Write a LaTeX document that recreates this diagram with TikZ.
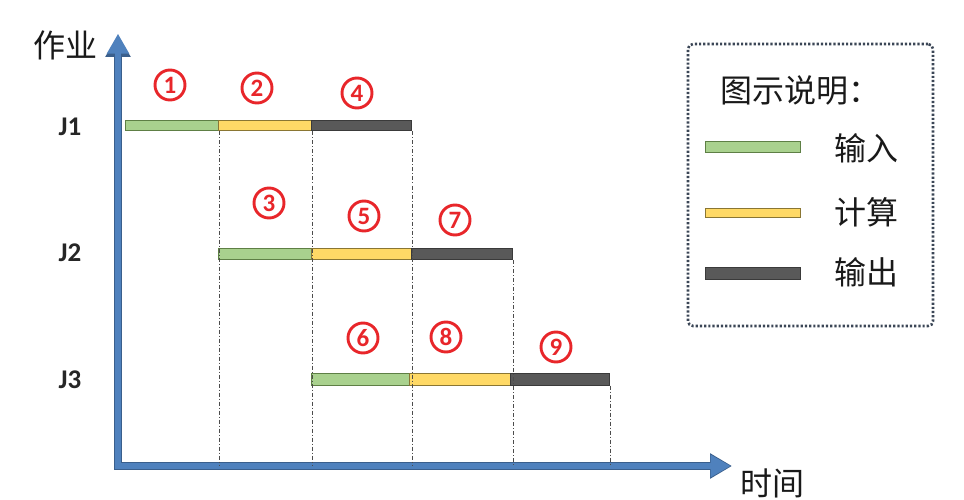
\documentclass[tikz,border=0pt]{standalone}
\usepackage{fontspec}
\setmainfont{Noto Sans}
\newfontfamily\cjk{Noto Sans CJK SC}
\newfontfamily\numfont{Carlito}
\usetikzlibrary{arrows.meta}
\definecolor{axisblue}{HTML}{4F81BD}
\definecolor{axisedge}{HTML}{3A5F8C}
\definecolor{ingreen}{HTML}{A9D18E}
\definecolor{ingreenedge}{HTML}{5E7F45}
\definecolor{calcyellow}{HTML}{FFD966}
\definecolor{calcedge}{HTML}{8A7633}
\definecolor{outdark}{HTML}{595959}
\definecolor{outedge}{HTML}{3A3A3A}
\definecolor{numred}{HTML}{E8262A}
\definecolor{legendedge}{HTML}{3B4656}
\tikzset{
  barbase/.style={inner sep=0pt, anchor=west, line width=1pt},
  inbar/.style={barbase, fill=ingreen, draw=ingreenedge},
  calcbar/.style={barbase, fill=calcyellow, draw=calcedge},
  outbar/.style={barbase, fill=outdark, draw=outedge},
  guide/.style={draw=black!70, line width=0.9pt, dash pattern=on 4pt off 2pt on 1pt off 2pt},
  numcirc/.style={circle, draw=numred, line width=2.9pt, text=numred, minimum size=30pt, inner sep=0pt, font=\numfont\bfseries\fontsize{25}{25}\selectfont},
  joblabel/.style={font=\numfont\bfseries\fontsize{27}{27}\selectfont, text=black!85},
  cjklabel/.style={font=\cjk\fontsize{32}{34}\selectfont, text=black!90},
}
\begin{document}
\begin{tikzpicture}[x=1pt,y=-1pt]
\useasboundingbox (0,0) rectangle (964,500);
\fill[white] (0,0) rectangle (964,500);
% axes
\coordinate (origin) at (118,466);
\coordinate (ytip) at (118,35);
\coordinate (xtip) at (732,466);
\draw[axisedge, line width=8.5pt, line join=miter, {Triangle[length=22pt,width=24pt]}-{Triangle[length=22pt,width=24pt]}] (ytip) |- (xtip);
\draw[axisblue, line width=6pt, line join=miter, {Triangle[length=20pt,width=21pt]}-{Triangle[length=20pt,width=21pt]}] ([yshift=1.3pt]ytip) |- ([xshift=-1.3pt]xtip);
% axis labels
\node[cjklabel] (ylab) at (66,45) {作业};
\node[cjklabel] (xlab) at (772,483) {时间};
\node[joblabel] (jl1) at (70,127) {J1};
\node[joblabel] (jl2) at (70,253) {J2};
\node[joblabel] (jl3) at (70,380) {J3};
% bars J1
\node[inbar, minimum width=93pt, minimum height=10pt] (a1) at (125,126) {};
\node[calcbar, minimum width=93pt, minimum height=10pt] (a2) at (218,126) {};
\node[outbar, minimum width=100pt, minimum height=10pt] (a3) at (311,126) {};
% bars J2
\node[inbar, minimum width=93pt, minimum height=11pt] (b1) at (218,254) {};
\node[calcbar, minimum width=100pt, minimum height=11pt] (b2) at (311,254) {};
\node[outbar, minimum width=101pt, minimum height=11pt] (b3) at (411,254) {};
% bars J3
\node[inbar, minimum width=98pt, minimum height=12pt] (c1) at (311,379) {};
\node[calcbar, minimum width=101pt, minimum height=12pt] (c2) at (409,379) {};
\node[outbar, minimum width=99pt, minimum height=12pt] (c3) at (510,379) {};
% guide lines
\draw[guide] (a1.south east) -- (a1.south east |- origin);
\draw[guide] (a2.south east) -- (a2.south east |- origin);
\draw[guide] (a3.south east) -- (a3.south east |- origin);
\draw[guide] (b3.south east) -- (b3.south east |- origin);
\draw[guide] (c3.south east) -- (c3.south east |- origin);
% circled numbers
\node[numcirc] (n1) at (170,85) {1};
\node[numcirc] (n2) at (257,88) {2};
\node[numcirc] (n4) at (357,93) {4};
\node[numcirc] (n3) at (269,203) {3};
\node[numcirc] (n5) at (364,216) {5};
\node[numcirc] (n7) at (455,220) {7};
\node[numcirc] (n6) at (363,338) {6};
\node[numcirc] (n8) at (446,337) {8};
\node[numcirc] (n9) at (556,347) {9};
% legend
\node[draw=legendedge, line width=2.6pt, dash pattern=on 2.2pt off 2pt, rounded corners=5pt, minimum width=245pt, minimum height=282pt, inner sep=0pt] (legend) at (810.5,185) {};
\node[cjklabel] (ltitle) at (800,90) {图示说明：};
\node[inbar, anchor=center, minimum width=95pt, minimum height=11pt] (lg1) at (752.5,147) {};
\node[calcbar, anchor=center, minimum width=95pt, minimum height=9pt] (lg2) at (752.5,213) {};
\node[outbar, anchor=center, minimum width=95pt, minimum height=12pt] (lg3) at (752.5,273) {};
\node[cjklabel] (lt1) at (866,148) {输入};
\node[cjklabel] (lt2) at (866,212) {计算};
\node[cjklabel] (lt3) at (866,272) {输出};
\end{tikzpicture}
\end{document}
